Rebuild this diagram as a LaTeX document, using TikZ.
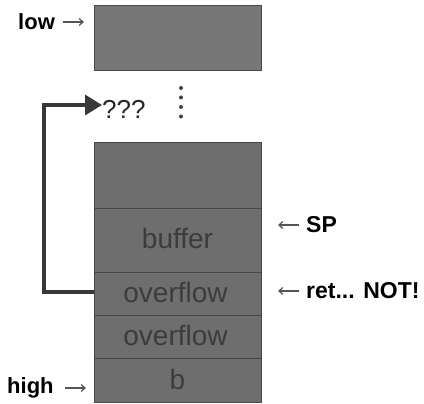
\documentclass[tikz,border=0pt]{standalone}
\usepackage{fontspec}
\setmainfont{Liberation Sans}
\usetikzlibrary{arrows.meta}
\definecolor{cellfill}{HTML}{6E6E6E}
\definecolor{topfill}{HTML}{777777}
\definecolor{cellline}{HTML}{474747}
\definecolor{celltext}{HTML}{3C3C3C}
\definecolor{arrowcol}{HTML}{383838}
\definecolor{smallarrow}{HTML}{555555}
\tikzset{
  cell/.style={draw=cellline, line width=0.8pt, fill=cellfill},
  celllabel/.style={text=celltext, font=\fontsize{28}{32}\selectfont, inner sep=0pt},
  sidelabel/.style={text=black, font=\fontsize{23}{26}\selectfont\bfseries, inner sep=0pt, anchor=west},
  pointer/.style={draw=smallarrow, line width=1.2pt, -{Straight Barb[length=4pt,width=7pt]}},
  jump/.style={draw=arrowcol, line width=3.5pt, -{Triangle[length=17pt,width=20pt]}},
  dot/.style={circle, fill=black!75, inner sep=0pt, minimum size=4pt}
}
\begin{document}
\begin{tikzpicture}[x=1pt,y=-1pt]
\useasboundingbox (0,0) rectangle (424,404);
% top box
\draw[cell, fill=topfill] (94,5) rectangle (261,70);
\node[inner sep=0pt] (topbox) at (177.5,37.5) {};
% stack cells
\draw[cell] (94,142) rectangle (261,208);
\draw[cell] (94,208) rectangle (261,272);
\draw[cell] (94,272) rectangle (261,315);
\draw[cell] (94,315) rectangle (261,358);
\draw[cell] (94,358) rectangle (261,402);
\node[celllabel] (buf) at (177.5,238) {buffer};
\node[celllabel] (ov1) at (175.5,292) {overflow};
\node[celllabel] (ov2) at (175.5,335) {overflow};
\node[celllabel] (bb) at (177.5,379) {b};
% dots
\node[dot] (d1) at (181,88) {};
\node[dot] (d2) at (181,97.5) {};
\node[dot] (d3) at (181,107) {};
\node[dot] (d4) at (181,116.5) {};
% ???
\node[inner sep=0pt, anchor=west, font=\fontsize{26}{30}\selectfont, text=black!85] (qqq) at (102,109) {???};
% jump arrow
\coordinate (ovl) at (94,292);
\coordinate (bend1) at (44,292);
\coordinate (bend2) at (44,105);
\draw[jump] (ovl) -- (bend1) -- (bend2) -- (qqq.west |- bend2);
% side labels
\node[sidelabel, font=\fontsize{22}{26}\selectfont\bfseries] (low) at (18,22) {low};
\coordinate (lowa) at (63,22);
\coordinate (lowb) at (84,22);
\draw[pointer] (lowa) -- (lowb);
\node[sidelabel, font=\fontsize{22}{26}\selectfont\bfseries] (high) at (7,388) {high};
\coordinate (higha) at (65,388);
\coordinate (highb) at (86,388);
\draw[pointer] (higha) -- (highb);
\coordinate (spa) at (299,225);
\coordinate (spb) at (278,225);
\draw[pointer] (spa) -- (spb);
\node[sidelabel] (sp) at (306,225) {SP};
\coordinate (reta) at (299,291);
\coordinate (retb) at (278,291);
\draw[pointer] (reta) -- (retb);
\node[sidelabel] (ret) at (306,291) {ret... NOT!};
\end{tikzpicture}
\end{document}
